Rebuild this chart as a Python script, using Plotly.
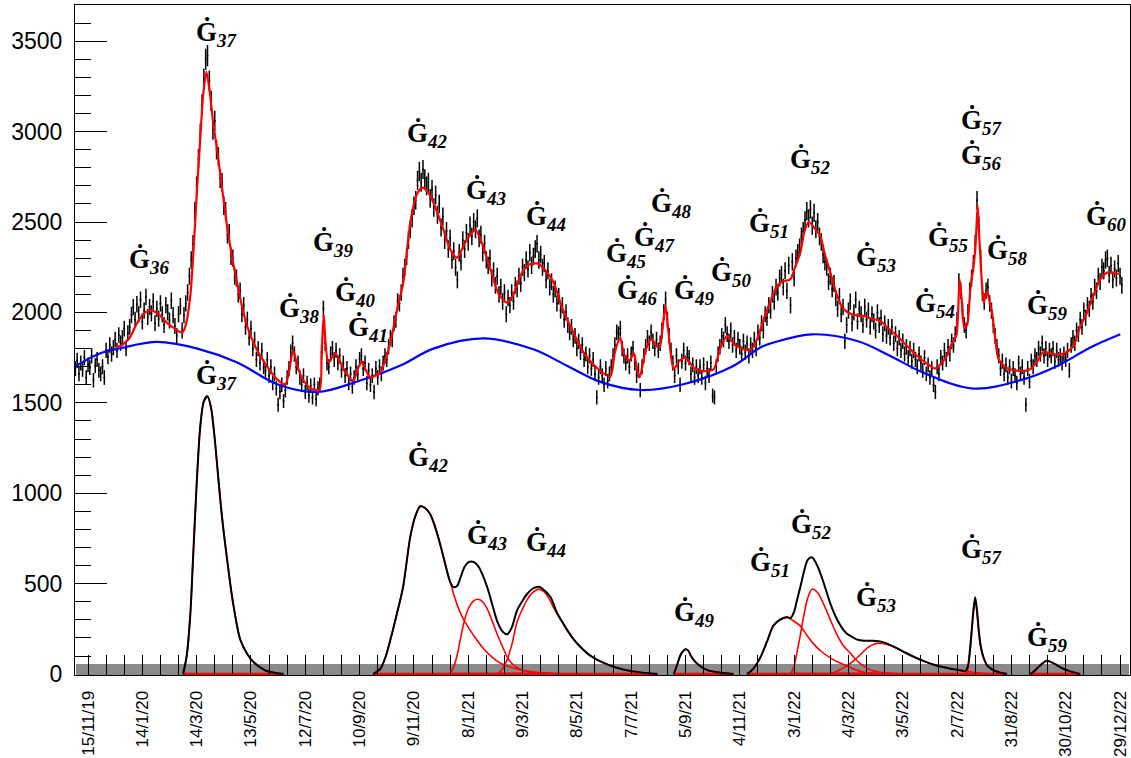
import numpy as np
import pandas as pd
import plotly.graph_objects as go

START = pd.Timestamp("2019-11-01")


def to_dates(days):
    return [START + pd.Timedelta(days=float(d)) for d in days]


# ---------------------------------------------------------------- data
# daily counts, one value every second day from 1/11/2019
COUNT_STEP = 2
counts = [
    1690, 1735, 1660, 1720, 1685, 1750, 1640, 1710, 1695, 1760, 1625, 1705, 1740, 1680, 1660,
    1700, 1640, 1790, 1755, 1820, 1770, 1805, 1850, 1790, 1875, 1830, 1860, 1910, 1800, 1885,
    1920, 1985, 2030, 1960, 2045, 1990, 2070, 1950, 2010, 2085, 1975, 2030, 1995, 2060, 1940,
    2020, 1965, 2050, 1990, 1930, 2040, 2000, 1955, 2065, 1985, 1925, 1870, 1990, 2035, 1900,
    1985, 2050, 2110, 2200, 2290, 2380, 2560, 2700, 2850, 2990, 3150, 3290, 3400, 3420, 3280,
    3170, 3010, 3060, 2900, 2860, 2740, 2720, 2590, 2560, 2430, 2440, 2310, 2300, 2200, 2190,
    2100, 2120, 1990, 2040, 1920, 1960, 1860, 1910, 1800, 1850, 1740, 1800, 1720, 1790, 1700,
    1680, 1740, 1650, 1700, 1610, 1660, 1580, 1490, 1560, 1600, 1510, 1570, 1640, 1690, 1780,
    1830, 1770, 1700, 1720, 1640, 1600, 1650, 1560, 1610, 1540, 1595, 1530, 1600, 1520, 1580,
    1600, 1780, 2020, 1830, 1720, 1700, 1770, 1800, 1740, 1790, 1720, 1760, 1680, 1720, 1650,
    1690, 1610, 1660, 1590, 1640, 1700, 1660, 1740, 1760, 1690, 1720, 1610, 1680, 1600, 1650,
    1560, 1690, 1640, 1700, 1660, 1720, 1760, 1740, 1810, 1860, 1850, 1940, 1960, 2060, 2050,
    2110, 2200, 2250, 2310, 2400, 2460, 2520, 2590, 2620, 2730, 2780, 2720, 2790, 2740, 2700,
    2720, 2630, 2680, 2580, 2650, 2540, 2600, 2470, 2530, 2400, 2450, 2350, 2410, 2290, 2340,
    2250, 2180, 2330, 2280, 2400, 2350, 2440, 2390, 2480, 2420, 2500, 2460, 2520, 2410, 2430,
    2330, 2380, 2290, 2260, 2300, 2190, 2230, 2150, 2200, 2100, 2140, 2060, 2110, 1990, 2080,
    2040, 2110, 2060, 2150, 2130, 2200, 2160, 2250, 2220, 2290, 2240, 2330, 2260, 2310, 2350,
    2380, 2290, 2320, 2250, 2270, 2180, 2230, 2140, 2170, 2100, 2130, 2050, 2090, 2010, 2040,
    1960, 2000, 1930, 1890, 1920, 1850, 1870, 1800, 1840, 1780, 1820, 1740, 1770, 1700, 1760,
    1690, 1740, 1660, 1530, 1640, 1700, 1650, 1600, 1690, 1620, 1660, 1700, 1760, 1820, 1890,
    1880, 1910, 1800, 1760, 1720, 1760, 1700, 1770, 1800, 1720, 1650, 1680, 1570, 1700, 1760,
    1810, 1860, 1830, 1890, 1840, 1800, 1850, 1790, 1830, 1900, 2000, 2070, 1960, 1870, 1790,
    1720, 1650, 1760, 1700, 1600, 1730, 1790, 1720, 1770, 1750, 1660, 1710, 1640, 1700, 1650,
    1700, 1640, 1710, 1610, 1690, 1650, 1720, 1540, 1530, 1700, 1770, 1810, 1870, 1850, 1930,
    1880, 1840, 1900, 1820, 1860, 1790, 1850, 1810, 1770, 1840, 1780, 1830, 1760, 1820, 1790,
    1850, 1800, 1890, 1860, 1940, 1900, 1990, 1970, 2040, 2010, 2100, 2060, 2140, 2110, 2190,
    2210, 2140, 2230, 2120, 2260, 2040, 2280, 2190, 2300, 2330, 2360, 2420, 2450, 2510, 2560,
    2520, 2570, 2480, 2550, 2460, 2500, 2420, 2390, 2320, 2280, 2250, 2170, 2200, 2130, 2160,
    2080, 2020, 2090, 1990, 2030, 1840, 1930, 2010, 2060, 1940, 2000, 2070, 1950, 2020, 1990,
    1930, 2030, 1960, 2010, 1920, 1990, 1950, 1900, 2000, 1930, 1970, 1880, 1940, 1870, 1920,
    1860, 1920, 1830, 1880, 1800, 1860, 1790, 1840, 1770, 1810, 1750, 1800, 1730, 1790, 1740,
    1700, 1770, 1720, 1680, 1750, 1660, 1710, 1640, 1690, 1600, 1560, 1700, 1660, 1750, 1720,
    1790, 1740, 1810, 1770, 1840, 1820, 1880, 1960, 2170, 2120, 2010, 1930, 1900, 2000, 2120,
    2190, 2270, 2380, 2620, 2480, 2300, 2110, 2060, 2120, 2140, 2050, 2010, 1930, 1870, 1810,
    1760, 1690, 1730, 1660, 1710, 1640, 1700, 1620, 1690, 1650, 1610, 1720, 1660, 1700, 1640,
    1490, 1690, 1620, 1730, 1700, 1760, 1740, 1800, 1770, 1830, 1760, 1800, 1740, 1790, 1760,
    1800, 1730, 1790, 1740, 1760, 1720, 1770, 1740, 1790, 1680, 1820, 1860, 1830, 1900, 1880,
    1960, 1920, 2010, 1970, 2040, 2020, 2090, 2060, 2140, 2120, 2200, 2170, 2250, 2230, 2290,
    2300, 2210, 2260, 2180, 2240, 2190, 2270, 2200, 2150,
]
count_days = list(range(0, COUNT_STEP * len(counts), COUNT_STEP))

# seasonal background (days since 1/11/2019, value)
base_days = [0, 27.6, 49.7, 90.6, 134.8, 178.9, 223.1, 267.3, 311.5, 359, 395.5, 450.7,
             505.9, 543.5, 579.9, 624.1, 671.6, 726.8, 756.6, 771, 814.1, 863.8, 900.3,
             936.7, 992, 1047.2, 1084.7, 1121.2, 1154.3]
base_vals = [1702, 1774, 1802, 1837, 1800, 1723, 1603, 1560, 1618, 1706, 1800, 1856,
             1796, 1704, 1616, 1571, 1603, 1704, 1806, 1833, 1879, 1842, 1759,
             1667, 1579, 1630, 1704, 1806, 1879]

# total fit
fit_days = [45, 50, 60, 68, 75, 83, 92, 101, 110, 118, 122, 127, 131, 134.4, 138, 141, 144.7,
            148, 152, 156.5, 162, 167.6, 173, 178.6, 184, 189.7, 197, 204.4, 213, 222.8, 232,
            236, 240.5, 245, 250, 259.6, 269.5, 272, 274.3, 276, 279.5, 287.2, 297, 307.1, 312,
            316.7, 321, 325.9, 336.9, 348, 356, 362.3, 370, 377, 383, 389, 395.5, 406.5, 414,
            421.6, 431, 441.8, 450, 458.4, 468, 476.9, 484, 491.5, 500, 510, 518, 528.3, 536,
            543.1, 552, 561.5, 576, 590.9, 596, 601.9, 606, 612.3, 616.7, 620, 623.3, 630, 636,
            641, 645.4, 648, 651.7, 655, 660.9, 667, 673.8, 684, 694, 705.1, 712, 719.9, 728,
            738.2, 745.6, 753, 760.3, 768, 775.1, 782, 789.8, 795, 800.8, 805, 810, 816, 822.9,
            828, 834, 841, 848.7, 858, 870.8, 880, 889.2, 898, 907.7, 918, 929.8, 940, 949.9,
            956, 962.9, 968, 973.1, 975, 976.8, 979, 982, 985, 988.6, 992, 994.1, 995.5, 996.7,
            998, 999.7, 1003.3, 1005.5, 1007.1, 1009, 1012.6, 1016, 1019.9, 1030, 1043.9,
            1054.9, 1062, 1069.6, 1078, 1088, 1095, 1102.7, 1110, 1117.5, 1125, 1132.2,
            1139.6, 1147, 1154.3]
fit_vals = [1812, 1815, 1860, 1940, 1990, 2013, 1990, 1944, 1910, 1888, 1930, 2091, 2380, 2680,
            2960, 3190, 3330, 3240, 3060, 2902, 2690, 2478, 2310, 2165, 2035, 1925, 1830, 1759,
            1693, 1630, 1603, 1670, 1791, 1710, 1640, 1581, 1571, 1760, 1990, 1860, 1724, 1774,
            1680, 1621, 1690, 1726, 1680, 1641, 1669, 1835, 2030, 2166, 2498, 2650, 2690, 2668,
            2608, 2459, 2350, 2303, 2390, 2456, 2370, 2238, 2098, 2054, 2100, 2201, 2262, 2271,
            2240, 2165, 2052, 1962, 1870, 1778, 1694, 1645, 1780, 1861, 1770, 1732, 1778, 1700,
            1640, 1790, 1852, 1820, 1806, 1880, 2039, 1900, 1686, 1730, 1750, 1690, 1676, 1686,
            1795, 1870, 1822, 1796, 1792, 1851, 1962, 2065, 2146, 2172, 2183, 2250, 2330, 2440,
            2500, 2470, 2422, 2320, 2220, 2100, 2017, 1989, 1980, 1964, 1953, 1912, 1870, 1818,
            1759, 1720, 1690, 1715, 1759, 1825, 1870, 1990, 2183, 2080, 1916, 1930, 2128, 2250,
            2349, 2480, 2592, 2460, 2312, 2054, 2100, 2118, 2080, 1999, 1860, 1741, 1690, 1676,
            1686, 1725, 1782, 1771, 1768, 1780, 1815, 1920, 1999, 2100, 2183, 2220, 2218, 2211]

# individual excess components above the background
g37_days = [119, 123, 127, 130, 134, 138, 142, 146, 150, 154, 158, 162, 167.6, 174, 182, 190,
            197, 210, 230]
g37_vals = [0, 100, 330, 636, 1050, 1370, 1510, 1536, 1470, 1300, 1080, 870, 636, 400, 193,
            110, 65, 20, 0]

g42_days = [329, 337, 343, 348, 355, 362, 370, 376, 381, 386, 392, 397, 403, 408, 414, 418, 422,
            427, 433, 442, 451, 460, 469, 477, 488, 500, 514, 536]
g42_vals = [0, 30, 100, 190, 330, 480, 760, 880, 928, 920, 884, 820, 718, 620, 510, 440, 380,
            320, 267, 200, 140, 95, 62, 45, 28, 16, 8, 0]

g43_days = [414, 418, 422, 426, 430, 434, 440, 445, 450, 455, 460, 466, 472, 477, 482, 488, 496,
            506, 525]
g43_vals = [0, 40, 110, 210, 300, 360, 405, 414, 400, 360, 300, 220, 150, 95, 60, 35, 18, 8, 0]

g44_days = [466, 472, 477, 482, 488, 494, 499, 505, 512, 518, 523, 528, 535, 543, 550, 558, 568,
            580, 598, 616, 643]
g44_vals = [0, 30, 80, 160, 290, 360, 410, 450, 470, 455, 420, 370, 310, 245, 195, 150, 105,
            70, 35, 15, 0]

g49_days = [661, 664, 668, 671, 674, 677, 680, 684, 690, 698, 709, 727]
g49_vals = [0, 40, 100, 125, 138, 130, 100, 72, 45, 22, 10, 0]

g51_days = [742, 749, 757, 764, 771, 778, 786, 793, 801, 808, 815, 824, 834, 843, 852, 861, 871, 889]
g51_vals = [0, 30, 95, 180, 267, 300, 315, 295, 265, 215, 170, 125, 90, 65, 46, 25, 10, 0]

g52_days = [790, 794, 797, 801, 804.5, 809, 814, 820, 826.6, 834, 841, 848, 856, 863, 871, 880,
            889, 908]
g52_vals = [0, 45, 116, 220, 319, 420, 470, 450, 387, 300, 221, 160, 116, 75, 44, 20, 10, 0]

g53_days = [834, 843, 852, 860, 867, 875, 882, 889, 896, 908, 917, 926, 938, 952, 967, 983, 1007]
g53_vals = [0, 20, 44, 75, 107, 145, 165, 171, 165, 142, 118, 96, 70, 46, 30, 17, 0]

g57_days = [984, 986, 988, 990, 992, 994, 996, 998, 1000, 1003, 1007, 1011, 1016, 1022, 1029]
g57_vals = [0, 30, 110, 220, 340, 414, 340, 230, 150, 90, 50, 32, 18, 8, 0]

g59_days = [1055, 1060, 1064, 1069, 1073, 1078, 1084, 1091, 1099, 1110]
g59_vals = [0, 20, 40, 62, 74, 66, 50, 30, 15, 0]

# summed excess in the overlapping waves
sum1_days = [329, 337, 343, 348, 355, 362, 370, 376, 381, 386, 392, 397, 403, 408, 414, 418, 422,
             426, 430, 434, 440, 445, 450, 455, 460, 466, 472, 477, 482, 488, 494, 499, 505, 512,
             518, 525, 532, 538, 543, 550, 558, 568, 580, 598, 616, 643]
sum1_vals = [0, 30, 100, 190, 330, 480, 760, 880, 928, 920, 884, 820, 718, 620, 510, 480, 490,
             542, 593, 618, 620, 597, 547, 480, 395, 292, 235, 220, 257, 353, 406, 443, 472, 483,
             464, 425, 339, 288, 246, 195, 150, 105, 70, 35, 15, 0]

sum2_days = [742, 749, 757, 764, 771, 778, 786, 790, 794, 797, 801, 805, 809, 814, 820, 826.6,
             834, 841, 848, 852, 856, 863, 871, 880, 889, 896, 908, 917, 926, 938, 952, 967, 976,
             983, 986, 988, 990, 992, 994, 996, 998, 1000, 1003, 1007, 1011, 1016, 1022, 1029]
sum2_vals = [0, 30, 95, 180, 267, 300, 315, 310, 345, 406, 485, 570, 632, 645, 595, 505,
             390, 306, 247, 225, 212, 192, 184, 185, 181, 170, 142, 118, 96, 70, 46, 30, 22,
             17, 45, 124, 233, 352, 425, 350, 239, 158, 96, 50, 32, 18, 8, 0]

# wave labels (number, day, height)
top_ids = [36, 37, 38, 39, 40, 41, 42, 43, 44, 45, 46, 47, 48, 49, 50, 51, 52, 53, 54, 55, 56,
           57, 58, 59, 60]
top_days = [81.7, 155.8, 247.4, 285, 309.3, 323.6, 388.8, 454, 520.3, 608.6, 620.8, 639.6,
            658.4, 683.8, 724.6, 766.6, 811.9, 884.8, 950, 964.3, 1000.8, 1000.8, 1029.5,
            1073.7, 1138.9]
top_vals = [2283, 3537, 2012, 2376, 2100, 1907, 2979, 2664, 2520, 2316, 2112, 2404, 2592, 2112,
            2211, 2481, 2835, 2294, 2039, 2404, 2857, 3051, 2332, 2028, 2520]

bottom_ids = [37, 42, 43, 44, 49, 51, 52, 53, 57, 59]
bottom_days = [155.8, 389.9, 455.1, 520.3, 683.8, 767.7, 813, 884.8, 1000.8, 1073.7]
bottom_vals = [1641, 1188, 757, 718, 332, 608, 818, 414, 680, 193]

tick_labels = ["15/11/19", "14/1/20", "14/3/20", "13/5/20", "12/7/20", "10/9/20", "9/11/20",
               "8/1/21", "9/3/21", "8/5/21", "7/7/21", "5/9/21", "4/11/21", "3/1/22", "4/3/22",
               "3/5/22", "2/7/22", "31/8/22", "30/10/22", "29/12/22"]
y_ticks = [0, 500, 1000, 1500, 2000, 2500, 3000, 3500]

# ---------------------------------------------------------------- figure
X_RANGE = ["2019-10-31 15:00", "2023-01-09 00:00"]
tick_dates = [pd.to_datetime(s, format="%d/%m/%y") for s in tick_labels]
medium_ticks = pd.date_range(tick_dates[0], X_RANGE[1], freq="20D")
daily_ticks = pd.date_range("2019-11-01", X_RANGE[1], freq="D")

RED = "#ff0000"
BLUE = "#0000ff"

fig = go.Figure()

# anchor trace for the 20-day tick axis
fig.add_trace(go.Scatter(x=[START], y=[None], xaxis="x2", yaxis="y", mode="markers",
                         showlegend=False, hoverinfo="skip"))

fig.add_trace(go.Scatter(
    x=to_dates(count_days), y=counts, mode="markers",
    marker=dict(size=2, color="black"),
    error_y=dict(type="data", array=np.sqrt(counts), thickness=1.5, width=0, color="black"),
    showlegend=False, hoverinfo="skip"))

fig.add_trace(go.Scatter(x=to_dates(base_days), y=base_vals, mode="lines",
                         line=dict(color=BLUE, width=2.2, shape="spline", smoothing=1.0),
                         showlegend=False))
fig.add_trace(go.Scatter(x=to_dates(fit_days), y=fit_vals, mode="lines",
                         line=dict(color=RED, width=2.2, shape="spline", smoothing=0.7),
                         showlegend=False))

components = [(g37_days, g37_vals), (g42_days, g42_vals), (g43_days, g43_vals),
              (g44_days, g44_vals), (g49_days, g49_vals), (g51_days, g51_vals),
              (g52_days, g52_vals), (g53_days, g53_vals), (g57_days, g57_vals),
              (g59_days, g59_vals)]
for days, vals in components:
    xs = to_dates(days)
    fig.add_trace(go.Scatter(x=[xs[0], xs[-1]], y=[0, 0], mode="lines",
                             line=dict(color=RED, width=2.5), showlegend=False))
    fig.add_trace(go.Scatter(x=xs, y=vals, mode="lines",
                             line=dict(color=RED, width=1.6, shape="spline", smoothing=0.8),
                             showlegend=False))

for days, vals in [(g37_days, g37_vals), (sum1_days, sum1_vals), (g49_days, g49_vals),
                   (sum2_days, sum2_vals), (g59_days, g59_vals)]:
    fig.add_trace(go.Scatter(x=to_dates(days), y=vals, mode="lines",
                             line=dict(color="black", width=2, shape="spline", smoothing=0.8),
                             showlegend=False))

label_font = dict(family="Liberation Serif, Times New Roman, serif", size=27, color="black")
for ids, days, vals in [(top_ids, top_days, top_vals), (bottom_ids, bottom_days, bottom_vals)]:
    for n, d, v in zip(ids, to_dates(days), vals):
        fig.add_annotation(x=d, y=v, text=f"<b>\u0120<sub><i>{n}</i></sub></b>",
                           showarrow=False, xanchor="center", yanchor="middle",
                           font=label_font)

sans = "Liberation Sans, Arial, Helvetica, sans-serif"
fig.update_layout(
    width=1131, height=758,
    margin=dict(l=75, r=1, t=5, b=83),
    plot_bgcolor="white", paper_bgcolor="white",
    showlegend=False,
    xaxis=dict(
        type="date", range=X_RANGE,
        tickmode="array", tickvals=tick_dates, ticktext=tick_labels, tickangle=-90,
        ticks="inside", ticklen=20, tickwidth=1, tickcolor="black",
        tickfont=dict(family=sans, size=17, color="black"), ticklabelstandoff=8,
        minor=dict(tickmode="array", tickvals=daily_ticks, ticks="inside", ticklen=11,
                   tickwidth=0.7, tickcolor="#8a8a8a", showgrid=False),
        showline=True, linecolor="black", linewidth=1, mirror=True,
        showgrid=False, zeroline=False, layer="below traces",
    ),
    xaxis2=dict(
        type="date", range=X_RANGE, overlaying="x", anchor="y", side="bottom",
        tickmode="array", tickvals=medium_ticks, ticks="inside", ticklen=20, tickwidth=1,
        tickcolor="black", showticklabels=False, showgrid=False, showline=False,
        zeroline=False,
    ),
    yaxis=dict(
        range=[-5, 3700], tickmode="array", tickvals=y_ticks, ticktext=[str(v) for v in y_ticks],
        ticks="inside", ticklen=32, tickwidth=1, tickcolor="black",
        tickfont=dict(family=sans, size=23, color="black"), ticklabelstandoff=7,
        minor=dict(tickmode="linear", tick0=0, dtick=100, ticks="inside", ticklen=16,
                   tickwidth=1, tickcolor="black", showgrid=False),
        showline=True, linecolor="black", linewidth=1, mirror=True,
        showgrid=False, zeroline=False,
    ),
)

fig.write_html("out.html")
